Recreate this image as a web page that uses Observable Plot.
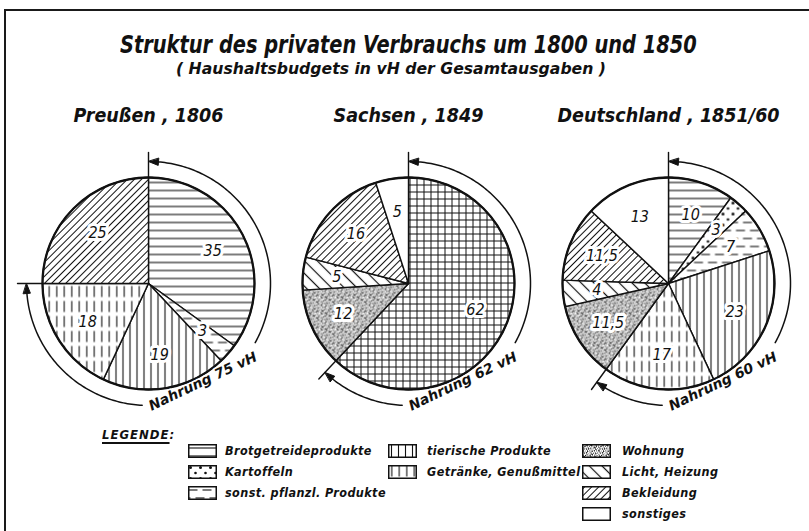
<!DOCTYPE html>
<html><head><meta charset="utf-8">
<script src="https://cdn.jsdelivr.net/npm/d3@7"></script>
<script src="https://cdn.jsdelivr.net/npm/@observablehq/plot@0.6"></script>
<style>
html,body{margin:0;padding:0;background:#fff;}
#page{position:relative;width:809px;height:531px;overflow:hidden;background:#fff;color:#111;font-family:"DejaVu Sans Condensed","DejaVu Sans",sans-serif;}
#frame{position:absolute;left:4px;top:9px;width:900px;height:600px;border-top:2px solid #1a1a1a;border-left:2px solid #1a1a1a;}
.fit{position:absolute;white-space:nowrap;font-style:italic;font-weight:bold;}
.fit span{display:inline-block;transform-origin:0 50%;}
#title{left:120px;top:31px;font-size:25px;line-height:28px;}
#subtitle{left:176px;top:60px;font-size:15px;line-height:18px;font-family:"DejaVu Sans",sans-serif;}
#chart{position:absolute;left:0;top:90px;}
.lg{position:absolute;font-style:italic;font-weight:bold;font-size:12.5px;line-height:14px;white-space:nowrap;letter-spacing:0.4px;}
.sw{position:absolute;}
#legtitle{position:absolute;left:102px;top:427px;font-style:italic;font-weight:bold;font-size:13px;line-height:16px;letter-spacing:1px;}
#legtitle u{text-decoration-thickness:2px;text-underline-offset:3px;}
</style>
</head>
<body>
<svg width="0" height="0" style="position:absolute">
<defs id="defs">
  <pattern id="p-brot" patternUnits="userSpaceOnUse" width="8" height="8"><rect width="8" height="8" fill="#fff"/><line x1="0" y1="4" x2="8" y2="4" stroke="#111" stroke-width="1.1"/></pattern>
  <pattern id="p-kart" patternUnits="userSpaceOnUse" width="10" height="11"><rect width="10" height="11" fill="#fff"/><circle cx="2.5" cy="2.5" r="1.5" fill="#111"/><circle cx="7.5" cy="8" r="1.3" fill="#111"/></pattern>
  <pattern id="p-sonst" patternUnits="userSpaceOnUse" width="14" height="16"><rect width="14" height="16" fill="#fff"/><line x1="0.5" y1="4" x2="9.5" y2="4" stroke="#111" stroke-width="1.1"/><line x1="7.5" y1="12" x2="14" y2="12" stroke="#111" stroke-width="1.1"/><line x1="0" y1="12" x2="2.5" y2="12" stroke="#111" stroke-width="1.1"/></pattern>
  <pattern id="p-tier" patternUnits="userSpaceOnUse" width="7" height="7"><rect width="7" height="7" fill="#fff"/><line x1="3.5" y1="0" x2="3.5" y2="7" stroke="#111" stroke-width="1.1"/></pattern>
  <pattern id="p-getr" patternUnits="userSpaceOnUse" width="7.5" height="15"><rect width="7.5" height="15" fill="#fff"/><line x1="3.75" y1="0.5" x2="3.75" y2="11.5" stroke="#111" stroke-width="1.1"/></pattern>
  <pattern id="p-nahr" patternUnits="userSpaceOnUse" width="7" height="7"><rect width="7" height="7" fill="#fff"/><line x1="3.5" y1="0" x2="3.5" y2="7" stroke="#111" stroke-width="1"/><line x1="0" y1="3.5" x2="7" y2="3.5" stroke="#111" stroke-width="1"/></pattern>
  <pattern id="p-wohn" patternUnits="userSpaceOnUse" width="16" height="16"><rect width="16" height="16" fill="#fff"/><g id="wohn-dots" fill="#1a1a1a"></g></pattern>
  <pattern id="p-licht" patternUnits="userSpaceOnUse" width="9" height="9" patternTransform="rotate(-45)"><rect width="9" height="9" fill="#fff"/><line x1="4.5" y1="0" x2="4.5" y2="9" stroke="#111" stroke-width="1.2"/></pattern>
  <pattern id="p-bekl" patternUnits="userSpaceOnUse" width="5" height="5" patternTransform="rotate(45)"><rect width="5" height="5" fill="#fff"/><line x1="2.5" y1="0" x2="2.5" y2="5" stroke="#111" stroke-width="1"/></pattern>
  <pattern id="p-none" patternUnits="userSpaceOnUse" width="4" height="4"><rect width="4" height="4" fill="#fff"/></pattern>
</defs>
</svg>
<div id="page">
  <div id="frame"></div>
  <div id="title" class="fit"><span data-w="577">Struktur des privaten Verbrauchs um 1800 und 1850</span></div>
  <div id="subtitle" class="fit"><span data-w="430">( Haushaltsbudgets in vH der Gesamtausgaben )</span></div>
  <div id="chart"></div>
  <div id="legtitle"><u>LEGENDE</u>:</div>
  <div id="legend"></div>
</div>
<script>
// ---------- data ----------
const regions = ["Preußen, 1806", "Sachsen, 1849", "Deutschland, 1851/60"];
const nahrungShares = [75, 62, 60];
const preussenCategories = ["Brotgetreideprodukte", "sonst. pflanzl. Produkte", "tierische Produkte", "Getränke, Genußmittel", "Bekleidung"];
const preussenValues = [35, 3, 19, 18, 25];
const sachsenCategories = ["Nahrung", "Wohnung", "Licht, Heizung", "Bekleidung", "sonstiges"];
const sachsenValues = [62, 12, 5, 16, 5];
const deutschlandCategories = ["Brotgetreideprodukte", "Kartoffeln", "sonst. pflanzl. Produkte", "tierische Produkte", "Getränke, Genußmittel", "Wohnung", "Licht, Heizung", "Bekleidung", "sonstiges"];
const deutschlandValues = [10, 3, 7, 23, 17, 11.5, 4, 11.5, 13];
const legendColumns = [
  ["Brotgetreideprodukte", "Kartoffeln", "sonst. pflanzl. Produkte"],
  ["tierische Produkte", "Getränke, Genußmittel"],
  ["Wohnung", "Licht, Heizung", "Bekleidung", "sonstiges"]
];

// ---------- style ----------
const patternOf = {
  "Brotgetreideprodukte": "p-brot", "Kartoffeln": "p-kart", "sonst. pflanzl. Produkte": "p-sonst",
  "tierische Produkte": "p-tier", "Getränke, Genußmittel": "p-getr", "Nahrung": "p-nahr",
  "Wohnung": "p-wohn", "Licht, Heizung": "p-licht", "Bekleidung": "p-bekl", "sonstiges": "p-none"
};
// stipple texture for "Wohnung"
(function(){
  const g = document.getElementById("wohn-dots");
  let s = "";
  for (let n = 0; n < 85; n++) {
    const x = ((0.5 + n * 0.7548776662) % 1) * 16;
    const y = ((0.5 + n * 0.5698402910) % 1) * 16;
    const r = [0.5, 0.7, 0.45, 0.8, 0.55][n % 5];
    s += `<circle cx="${x.toFixed(2)}" cy="${y.toFixed(2)}" r="${r}"/>`;
  }
  g.innerHTML = s;
})();

// ---------- layout ----------
const W = 809, H = 340;
const centersX = [148, 408, 668];
const centerY = 193;
const R = 106, arcR = 122;
const headerY = 25;
const textAngle = 151, halfGap = 32, textR = 112, textRot = -25.5;
const headLen = 10, headHalf = 3.5;

const pies = [
  {cats: preussenCategories, vals: preussenValues},
  {cats: sachsenCategories, vals: sachsenValues},
  {cats: deutschlandCategories, vals: deutschlandValues}
];
const fmt = v => String(v).replace(".", ",");
const toXY = (i, deg, rho) => {
  const a = deg * Math.PI / 180;
  return [centersX[i] + rho * Math.sin(a), centerY - rho * Math.cos(a)];
};
const arcPts = (i, a0, a1, rho) => {
  const n = Math.max(2, Math.ceil(Math.abs(a1 - a0)));
  return d3.range(n + 1).map(k => toXY(i, a0 + (a1 - a0) * k / n, rho));
};

const wedgeRows = [], labelRows = [], tickRows = [], arcRows = [], headRows = [], nahrungRows = [];
pies.forEach((p, i) => {
  const total = d3.sum(p.vals);
  let acc = 0;
  p.vals.forEach((v, j) => {
    const a0 = acc / total * 360, a1 = (acc + v) / total * 360;
    acc += v;
    const key = `${i}-${j}`, fill = `url(#${patternOf[p.cats[j]]})`;
    const pts = [toXY(i, 0, 0), ...arcPts(i, a0, a1, R), toXY(i, 0, 0)];
    pts.forEach(([x, y]) => wedgeRows.push({key, x, y, fill}));
    const [lx, ly] = toXY(i, (a0 + a1) / 2, R * 0.68);
    labelRows.push({x: lx, y: ly, text: fmt(v)});
  });
  const end = nahrungShares[i] / 100 * 360;
  [0, end].forEach((a, k) => {
    [toXY(i, a, R), toXY(i, a, arcR + 9)].forEach(([x, y]) => tickRows.push({key: `${i}-${k}`, x, y}));
  });
  const dh = headLen / arcR * 180 / Math.PI;
  arcPts(i, dh, textAngle - halfGap, arcR).forEach(([x, y]) => arcRows.push({key: `${i}-a`, x, y}));
  arcPts(i, textAngle + halfGap, end - dh, arcR).forEach(([x, y]) => arcRows.push({key: `${i}-b`, x, y}));
  [[0, dh], [end, end - dh]].forEach(([tip, base], k) => {
    [toXY(i, tip, arcR), toXY(i, base, arcR - headHalf), toXY(i, base, arcR + headHalf)]
      .forEach(([x, y]) => headRows.push({key: `${i}-${k}`, x, y}));
  });
  const [tx, ty] = toXY(i, textAngle, textR);
  nahrungRows.push({x: tx, y: ty, text: `Nahrung ${nahrungShares[i]} vH`, rot: textRot});
});
const headerRows = regions.map((name, i) => ({x: centersX[i], y: headerY, text: name.replace(",", " ,")}));

const font = '"DejaVu Sans Condensed","DejaVu Sans",sans-serif';
const chart = Plot.plot({
  width: W, height: H, margin: 0,
  x: {domain: [0, W], range: [0, W], axis: null},
  y: {domain: [0, H], range: [0, H], axis: null},
  color: {type: "identity"},
  style: {background: "transparent", overflow: "visible", fontFamily: font},
  marks: [
    Plot.line(wedgeRows, {x: "x", y: "y", z: "key", fill: "fill", stroke: "#111", strokeWidth: 1.4, strokeLinejoin: "round"}),
    Plot.dot(centersX, {x: d => d, y: () => centerY, r: R, stroke: "#111", strokeWidth: 2.3, fill: "none"}),
    Plot.line(tickRows, {x: "x", y: "y", z: "key", stroke: "#111", strokeWidth: 1.4}),
    Plot.line(arcRows, {x: "x", y: "y", z: "key", stroke: "#111", strokeWidth: 1.5}),
    Plot.line(headRows, {x: "x", y: "y", z: "key", fill: "#111", stroke: "#111", strokeWidth: 1, curve: "linear-closed"}),
    Plot.text(labelRows, {x: "x", y: "y", text: "text", fontSize: 16, fontStyle: "italic", fill: "#111", stroke: "#fff", strokeWidth: 6, paintOrder: "stroke"}),
    Plot.text(nahrungRows, {x: "x", y: "y", text: "text", rotate: "rot", fontSize: 14, fontWeight: "bold", fontStyle: "italic", fill: "#111", stroke: "#fff", strokeWidth: 3, paintOrder: "stroke", fontFamily: '"DejaVu Sans",sans-serif'}),
    Plot.text(headerRows, {x: "x", y: "y", text: "text", fontSize: 19.5, fontWeight: "bold", fontStyle: "italic", fill: "#111"})
  ]
});
document.getElementById("chart").appendChild(chart);

// ---------- legend ----------
const swX = [188, 388, 582], txX = [225, 427, 622], rowY = [451, 472, 493, 514];
const leg = document.getElementById("legend");
legendColumns.forEach((col, c) => col.forEach((cat, r) => {
  const sw = document.createElementNS("http://www.w3.org/2000/svg", "svg");
  sw.setAttribute("class", "sw");
  sw.setAttribute("width", 29); sw.setAttribute("height", 14);
  sw.style.left = swX[c] + "px"; sw.style.top = (rowY[r] - 7) + "px";
  sw.innerHTML = `<rect x="0.75" y="0.75" width="27.5" height="12.5" fill="url(#${patternOf[cat]})" stroke="#111" stroke-width="1.5"/>`;
  leg.appendChild(sw);
  const t = document.createElement("div");
  t.className = "lg";
  t.textContent = cat;
  t.style.left = txX[c] + "px"; t.style.top = (rowY[r] - 7) + "px";
  leg.appendChild(t);
}));

// fit heading widths to the reference lettering
document.querySelectorAll(".fit span").forEach(s => {
  const w = s.getBoundingClientRect().width;
  s.style.transform = `scaleX(${(+s.dataset.w / w).toFixed(3)})`;
});
</script>
</body></html>
